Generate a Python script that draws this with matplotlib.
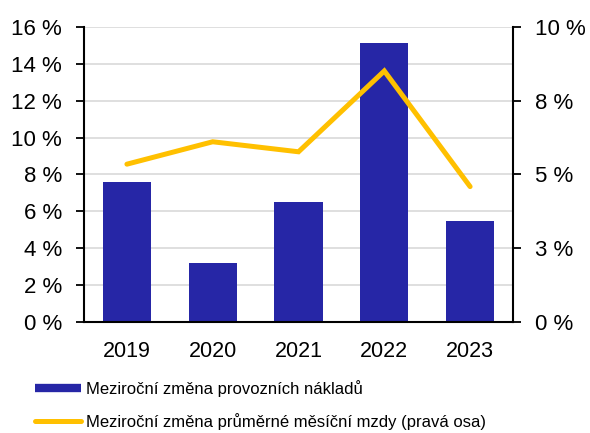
import matplotlib
matplotlib.use("Agg")
import matplotlib.pyplot as plt
from matplotlib.lines import Line2D

years = ["2019", "2020", "2021", "2022", "2023"]
naklady = [7.58, 3.18, 6.52, 15.15, 5.48]
mzdy = [5.35, 6.11, 5.77, 8.51, 4.59]
left_ticks = [0, 2, 4, 6, 8, 10, 12, 14, 16]
left_labels = ["0 %", "2 %", "4 %", "6 %", "8 %", "10 %", "12 %", "14 %", "16 %"]
right_ticks = [0, 2.5, 5, 7.5, 10]
right_labels = ["0 %", "3 %", "5 %", "8 %", "10 %"]
label_bar = "Meziroční změna provozních nákladů"
label_line = "Meziroční změna průměrné měsíční mzdy (pravá osa)"

plt.rcParams['font.family'] = ['Liberation Sans', 'DejaVu Sans']
bar_color = "#2626A6"
line_color = "#FFC000"

fig = plt.figure(figsize=(5.9, 4.33), dpi=100)
ax = fig.add_axes([0.1424, 0.2564, 0.7271, 0.6812])
x = list(range(len(years)))
ax.bar(x, naklady, width=0.56, color=bar_color, zorder=2)
ax.set_xlim(-0.5, len(years) - 0.5)
ax.set_ylim(0, 16)
ax.set_yticks(left_ticks)
ax.set_yticklabels(left_labels)
ax.yaxis.grid(True, color="#D9D9D9", linewidth=1.2, zorder=0)
ax.set_axisbelow(True)
ax.set_xticks(x)
ax.set_xticklabels(years)
ax.tick_params(axis='x', length=0, pad=14, labelsize=15.5)
ax.tick_params(axis='y', length=6, width=1.3, pad=10, labelsize=16, direction='out')
for s in ["top", "right"]:
    ax.spines[s].set_visible(False)
for s in ["left", "bottom"]:
    ax.spines[s].set_linewidth(1.5)

ax2 = ax.twinx()
ax2.plot(x, mzdy, color=line_color, linewidth=3.6, solid_capstyle='round',
         solid_joinstyle='miter', zorder=3)
ax2.set_ylim(0, 10)
ax2.set_yticks(right_ticks)
ax2.set_yticklabels(right_labels)
ax2.tick_params(axis='y', length=6, width=1.3, pad=10, labelsize=16, direction='out')
for s in ["top", "left", "bottom"]:
    ax2.spines[s].set_visible(False)
ax2.spines["right"].set_linewidth(1.5)

handles = [Line2D([0], [0], color=bar_color, linewidth=6, solid_capstyle='butt'),
           Line2D([0], [0], color=line_color, linewidth=3.6, solid_capstyle='round')]
fig.legend(handles, [label_bar, label_line], loc='upper left',
           bbox_to_anchor=(0.059, 0.123), frameon=False, fontsize=12,
           handlelength=2.8, handletextpad=0.3, labelspacing=1.0, borderpad=0, borderaxespad=0)

fig.savefig("out.png", dpi=100)
